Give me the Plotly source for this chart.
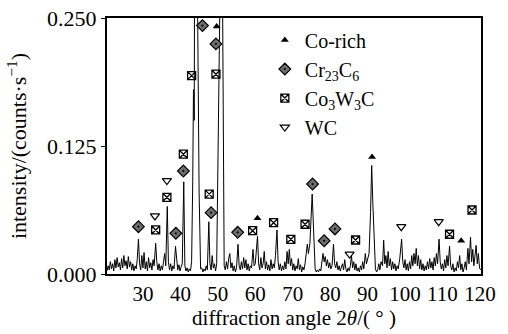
import plotly.graph_objects as go

# ---- spectrum (2θ in degrees, intensity in counts/s) ----
two_theta = [
    20.4, 20.7, 21.0, 21.3, 21.6, 21.9, 22.2, 22.5, 22.8, 23.1, 23.4, 23.7, 24.0, 24.3, 24.6, 24.9,
    25.2, 25.5, 25.8, 26.1, 26.4, 26.7, 27.0, 27.3, 27.6, 27.9, 28.2, 28.5, 28.8, 29.1, 29.4, 29.7,
    30.0, 30.3, 30.6, 30.9, 31.2, 31.5, 31.8, 32.1, 32.4, 32.7, 33.0, 33.4, 33.7, 34.0, 34.3, 34.6,
    34.9, 35.2, 35.5, 35.8, 36.1, 36.5, 36.8, 37.1, 37.4, 37.7, 38.0, 38.3, 38.7, 39.0, 39.3, 39.6,
    39.9, 40.2, 40.5, 40.9, 41.2, 41.5, 41.8, 42.1, 42.4, 42.7, 43.0, 43.3, 43.5, 43.7, 43.9, 44.2,
    44.6, 45.0, 45.4, 45.7, 46.0, 46.3, 46.6, 46.9, 47.2, 47.6, 47.9, 48.2, 48.5, 48.8, 49.1, 49.4,
    49.7, 50.5, 50.9, 51.3, 51.7, 52.0, 52.3, 52.6, 52.9, 53.2, 53.5, 53.8, 54.1, 54.4, 54.7, 55.0,
    55.4, 55.7, 56.0, 56.3, 56.6, 56.9, 57.2, 57.5, 57.8, 58.1, 58.4, 58.7, 59.0, 59.4, 59.7, 60.0,
    60.6, 60.9, 61.2, 61.5, 61.8, 62.1, 62.4, 62.7, 63.0, 63.3, 63.6, 63.9, 64.2, 64.5, 64.8, 65.1,
    65.4, 65.8, 66.1, 66.4, 66.7, 67.0, 67.3, 67.6, 67.9, 68.2, 68.5, 68.8, 69.1, 69.4, 69.7, 70.0,
    70.3, 70.6, 70.9, 71.2, 71.5, 71.8, 72.1, 72.4, 72.7, 73.0, 73.3, 73.6, 73.9, 74.2, 74.6, 75.2,
    75.7, 76.0, 76.3, 76.6, 76.9, 77.2, 77.5, 77.8, 78.1, 78.4, 78.7, 79.0, 79.3, 79.6, 79.9, 80.2,
    80.5, 80.9, 81.2, 81.5, 81.8, 82.1, 82.4, 82.7, 83.0, 83.3, 83.6, 83.9, 84.2, 84.5, 84.8, 85.1,
    85.4, 85.7, 86.0, 86.3, 86.6, 86.9, 87.2, 87.5, 87.8, 88.1, 88.4, 88.7, 89.0, 89.4, 89.7, 90.0,
    90.4, 90.8, 91.1, 91.4, 91.8, 92.1, 92.4, 92.7, 93.0, 93.3, 93.6, 94.0, 94.3, 94.6, 94.9, 95.2,
    95.5, 95.8, 96.1, 96.4, 96.7, 97.0, 97.3, 97.6, 97.9, 98.2, 98.6, 99.1, 99.4, 99.7, 100.0, 100.3,
    100.6, 100.9, 101.2, 101.5, 101.8, 102.1, 102.4, 102.7, 103.0, 103.3, 103.6, 103.9, 104.2, 104.5, 104.8, 105.1,
    105.4, 105.7, 106.0, 106.3, 106.6, 106.9, 107.2, 107.5, 107.8, 108.1, 108.4, 108.7, 109.1, 109.4, 109.7, 110.0,
    110.3, 110.6, 110.9, 111.2, 111.5, 111.9, 112.2, 112.5, 112.8, 113.1, 113.4, 113.7, 114.0, 114.3, 114.6, 114.9,
    115.2, 115.5, 115.8, 116.1, 116.4, 116.8, 117.1, 117.5, 117.8, 118.1, 118.4, 118.7, 119.0, 119.3, 119.6, 119.9,
    120.2,
]
intensity = [
    0.003, 0.008, 0.004, 0.012, 0.005, 0.010, 0.003, 0.014, 0.006, 0.016, 0.007, 0.011, 0.004, 0.015, 0.006, 0.018,
    0.008, 0.013, 0.005, 0.017, 0.007, 0.012, 0.004, 0.010, 0.003, 0.008, 0.005, 0.015, 0.034, 0.010, 0.004, 0.018,
    0.006, 0.021, 0.005, 0.012, 0.003, 0.016, 0.006, 0.011, 0.004, 0.014, 0.008, 0.030, 0.012, 0.004, 0.010, 0.003,
    0.008, 0.004, 0.012, 0.020, 0.008, 0.066, 0.012, 0.004, 0.010, 0.003, 0.008, 0.005, 0.027, 0.010, 0.004, 0.009,
    0.003, 0.007, 0.010, 0.090, 0.008, 0.003, 0.006, 0.002, 0.005, 0.003, 0.012, 0.090, 0.180, 0.150, 0.260, 0.900,
    0.260, 0.080, 0.005, 0.006, 0.002, 0.005, 0.003, 0.008, 0.004, 0.051, 0.010, 0.004, 0.018, 0.006, 0.010, 0.003,
    0.010, 0.250, 0.900, 0.250, 0.008, 0.004, 0.012, 0.005, 0.015, 0.020, 0.006, 0.011, 0.003, 0.008, 0.002, 0.006,
    0.029, 0.008, 0.004, 0.012, 0.005, 0.016, 0.006, 0.014, 0.004, 0.010, 0.003, 0.008, 0.006, 0.024, 0.008, 0.010,
    0.037, 0.010, 0.004, 0.016, 0.006, 0.010, 0.022, 0.005, 0.012, 0.004, 0.009, 0.003, 0.014, 0.005, 0.010, 0.006,
    0.018, 0.043, 0.012, 0.004, 0.010, 0.003, 0.008, 0.004, 0.012, 0.005, 0.022, 0.010, 0.024, 0.008, 0.015, 0.004,
    0.010, 0.003, 0.008, 0.005, 0.015, 0.004, 0.009, 0.002, 0.007, 0.004, 0.010, 0.018, 0.029, 0.020, 0.030, 0.078,
    0.020, 0.005, 0.002, 0.004, 0.002, 0.005, 0.003, 0.010, 0.020, 0.012, 0.017, 0.008, 0.014, 0.006, 0.011, 0.005,
    0.008, 0.029, 0.010, 0.006, 0.012, 0.004, 0.008, 0.003, 0.006, 0.010, 0.004, 0.014, 0.005, 0.002, 0.006, 0.003,
    0.008, 0.018, 0.006, 0.012, 0.004, 0.010, 0.003, 0.006, 0.002, 0.008, 0.004, 0.012, 0.005, 0.020, 0.010, 0.016,
    0.020, 0.060, 0.106, 0.070, 0.020, 0.005, 0.002, 0.004, 0.010, 0.004, 0.012, 0.008, 0.033, 0.010, 0.018, 0.006,
    0.022, 0.008, 0.015, 0.004, 0.012, 0.005, 0.010, 0.003, 0.008, 0.005, 0.015, 0.034, 0.012, 0.006, 0.014, 0.004,
    0.010, 0.003, 0.012, 0.005, 0.018, 0.008, 0.020, 0.010, 0.025, 0.008, 0.018, 0.005, 0.014, 0.004, 0.010, 0.003,
    0.008, 0.004, 0.012, 0.005, 0.015, 0.006, 0.012, 0.004, 0.016, 0.008, 0.020, 0.010, 0.034, 0.012, 0.005, 0.010,
    0.003, 0.014, 0.006, 0.018, 0.008, 0.027, 0.008, 0.004, 0.010, 0.002, 0.006, 0.003, 0.012, 0.006, 0.018, 0.004,
    0.010, 0.002, 0.006, 0.012, 0.004, 0.025, 0.010, 0.036, 0.012, 0.024, 0.008, 0.016, 0.028, 0.010, 0.020, 0.006,
    0.004,
]

# ---- phase markers (2θ, intensity) ----
co_rich_x = [49.7, 60.6, 91.2, 115.0]
co_rich_y = [0.2416, 0.0544, 0.1143, 0.0325]

cr23c6_x = [45.9, 49.5, 40.8, 48.2, 28.8, 38.8, 55.3, 75.3, 78.4, 81.3]
cr23c6_y = [0.2426, 0.2247, 0.1006, 0.0599, 0.0462, 0.0398, 0.0407, 0.0879, 0.0325, 0.0440]

co3w3c_x = [43.0, 49.5, 40.8, 36.4, 33.4, 47.7, 59.3, 64.9, 69.5, 73.3, 86.8, 111.9, 117.9]
co3w3c_y = [0.1937, 0.1951, 0.1170, 0.0749, 0.0430, 0.0780, 0.0423, 0.0501, 0.0339, 0.0486, 0.0332, 0.0388, 0.0625]

wc_x = [36.4, 33.2, 85.2, 99.0, 109.0]
wc_y = [0.0912, 0.0567, 0.0195, 0.0462, 0.0511]

x_ticks = [30, 40, 50, 60, 70, 80, 90, 100, 110, 120]
y_ticks = [0.0, 0.125, 0.25]

FONT = "Liberation Serif"

fig = go.Figure()
fig.add_trace(go.Scatter(x=two_theta, y=intensity, mode="lines",
                         line=dict(color="black", width=1), showlegend=False))
fig.add_trace(go.Scatter(x=co_rich_x, y=co_rich_y, mode="markers", name="Co-rich",
                         marker=dict(symbol="triangle-up", size=7, color="black")))
fig.add_trace(go.Scatter(x=cr23c6_x, y=cr23c6_y, mode="markers", name="Cr<sub>23</sub>C<sub>6</sub>",
                         marker=dict(symbol="diamond-dot", size=9, color="#6e6e6e",
                                     line=dict(color="black", width=1.2))))
fig.add_trace(go.Scatter(x=co3w3c_x, y=co3w3c_y, mode="markers", name="Co<sub>3</sub>W<sub>3</sub>C",
                         marker=dict(symbol="square-x-open", size=8, color="black",
                                     line=dict(color="black", width=1.3))))
fig.add_trace(go.Scatter(x=wc_x, y=wc_y, mode="markers", name="WC",
                         marker=dict(symbol="triangle-down-open", size=8, color="black",
                                     line=dict(color="black", width=1.2))))

fig.update_layout(
    width=508, height=334,
    margin=dict(l=107, r=27, t=18, b=60, autoexpand=False),
    paper_bgcolor="white", plot_bgcolor="white",
    font=dict(family=FONT, size=20, color="black"),
    legend=dict(x=0.422, y=0.99, xanchor="left", yanchor="top",
                bgcolor="rgba(0,0,0,0)", font=dict(family=FONT, size=20), itemwidth=30,
                tracegroupgap=0),
    xaxis=dict(range=[20.4, 120.3], tickvals=x_ticks, showgrid=False, zeroline=False,
               showline=True, linecolor="black", linewidth=2, mirror=True, automargin=False,
               ticks="", tickfont=dict(family=FONT, size=21),
               title=dict(text="diffraction angle 2<i>θ</i>/( ° )", font=dict(family=FONT, size=21), standoff=4)),
    yaxis=dict(range=[0, 0.25], tickvals=y_ticks, tickformat=".3f", showgrid=False, zeroline=False,
               showline=True, linecolor="black", linewidth=2, mirror=True, automargin=False,
               ticks="outside", ticklen=4, tickcolor="black", tickfont=dict(family=FONT, size=22),
               title=dict(text="intensity/(counts·s<sup>−1</sup>)", font=dict(family=FONT, size=22), standoff=14)),
)

fig.write_html("out.html", config={"displayModeBar": False},
               post_script="document.body.style.margin='0';")
